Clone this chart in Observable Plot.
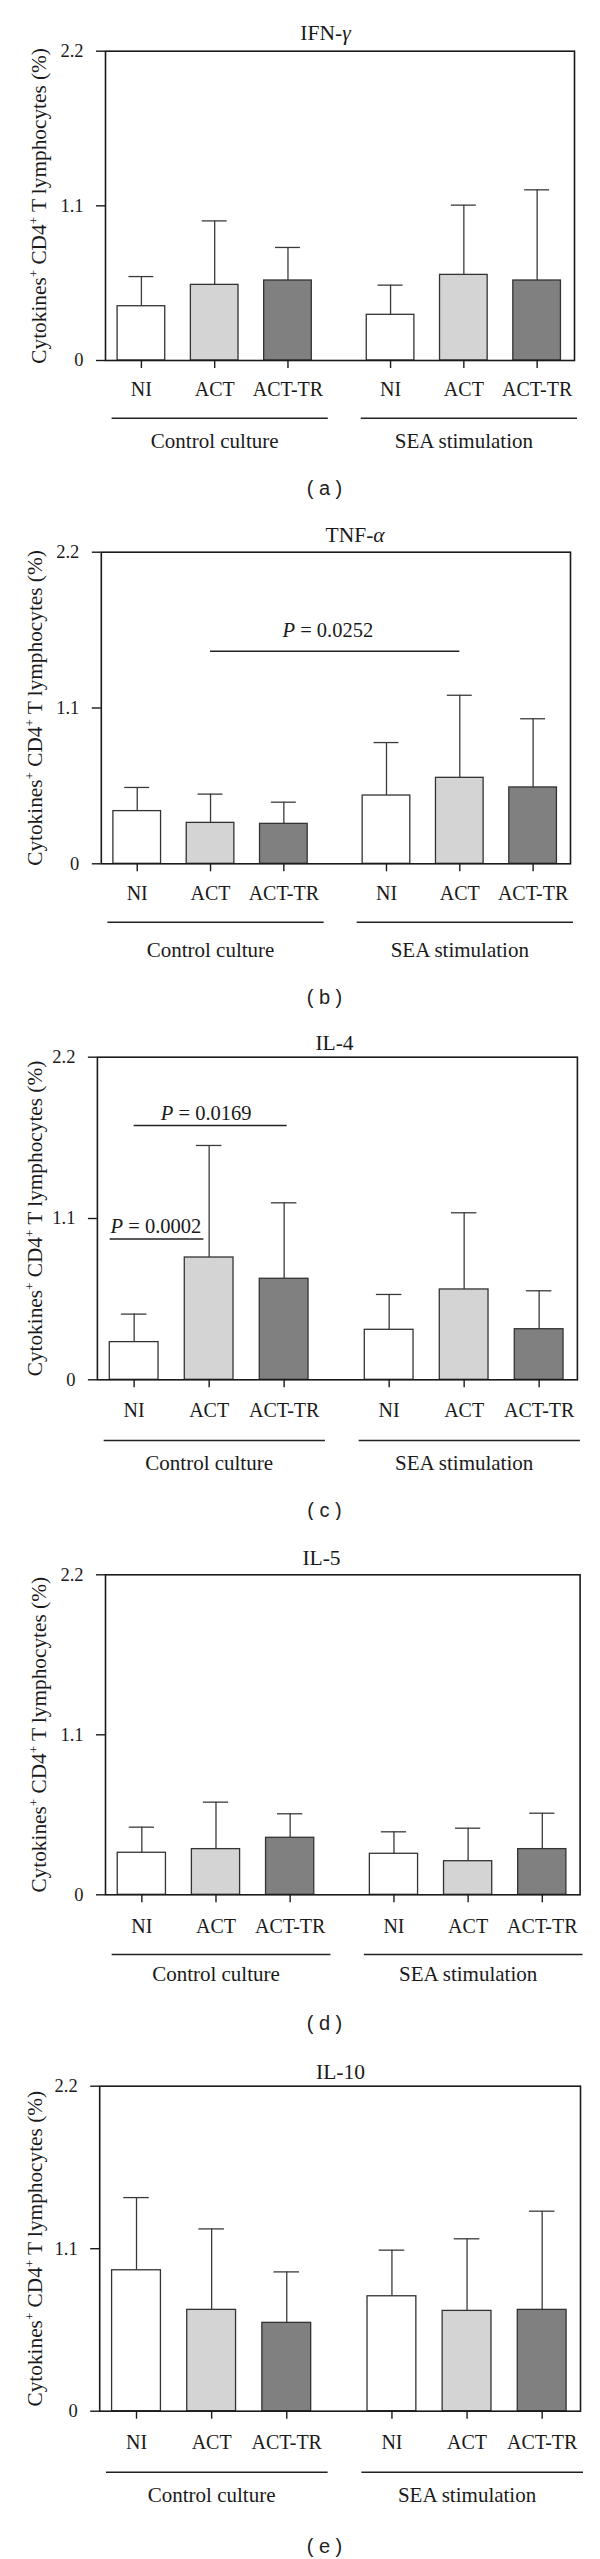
<!DOCTYPE html>
<html>
<head>
<meta charset="utf-8">
<script src="https://cdn.jsdelivr.net/npm/d3@7"></script>
<script src="https://cdn.jsdelivr.net/npm/@observablehq/plot@0.6"></script>
<style>
  html, body { margin: 0; padding: 0; background: #fff; }
  #chart { position: relative; width: 600px; height: 2559px; overflow: hidden; }
  #chart svg { position: absolute; left: 0; }
</style>
</head>
<body>
<div id="chart"></div>
<script>
// ---------------- DATA ----------------
const cytokines = ["IFN-γ", "TNF-α", "IL-4", "IL-5", "IL-10"];
const panelTags = ["a", "b", "c", "d", "e"];
const groups = ["Control culture", "SEA stimulation"];
const conditions = ["NI", "ACT", "ACT-TR"];
const conditionFills = ["#ffffff", "#d4d4d4", "#808080"];
const yTicks = [0, 1.1, 2.2];
const yLabel = "Cytokines+ CD4+ T lymphocytes (%)";

// order: Control NI, ACT, ACT-TR, SEA NI, ACT, ACT-TR
const meanIFNg = [0.386, 0.538, 0.569, 0.325, 0.609, 0.569];
const sdIFNg   = [0.211, 0.455, 0.235, 0.211, 0.496, 0.645];
const meanTNFa = [0.372, 0.289, 0.282, 0.482, 0.607, 0.539];
const sdTNFa   = [0.167, 0.203, 0.153, 0.374, 0.583, 0.485];
const meanIL4  = [0.257, 0.834, 0.689, 0.341, 0.616, 0.345];
const sdIL4    = [0.191, 0.764, 0.518, 0.241, 0.523, 0.262];
const meanIL5  = [0.289, 0.314, 0.392, 0.282, 0.231, 0.314];
const sdIL5    = [0.176, 0.323, 0.165, 0.151, 0.227, 0.247];
const meanIL10 = [0.954, 0.686, 0.598, 0.778, 0.679, 0.686];
const sdIL10   = [0.492, 0.548, 0.345, 0.312, 0.488, 0.668];
const means = [meanIFNg, meanTNFa, meanIL4, meanIL5, meanIL10];
const sds   = [sdIFNg, sdTNFa, sdIL4, sdIL5, sdIL10];

// significance annotations (x in category slots, y in %)
const pCytokine = ["TNF-α", "IL-4", "IL-4"];
const pLabels   = ["P = 0.0252", "P = 0.0002", "P = 0.0169"];
const pFrom     = [1, -0.32, 0];
const pTo       = [4.4, 0.93, 2.04];
const pLineY    = [1.50, 0.96, 1.734];
const pTextX    = [2.6, 0.29, 0.96];
const pTextY    = [1.60, 1.0, 1.773];

// ---------------- LAYOUT (pixels) ----------------
const groupShift = 3.4;        // slot offset of second group
const barHalf = 0.325, capHalf = 0.17;
const xDomain = [-0.49, 5.91];
const yLabelLength = 316;      // px length of the rotated axis title
const panels = [
  {svgTop: 0,    height: 500, frameTop: 50.7, frameBottom: 360,   left: 105,   right: 574,   titleX: 325,   titleY: 33, labelDx: -66, catDy: 29,   lineDy: 57.7, groupDy: 81,   capDy: 128},
  {svgTop: 500,  height: 510, frameTop: 51.7, frameBottom: 363.3, left: 100.8, right: 570,   titleX: 354.6, titleY: 35, labelDx: -66, catDy: 29.7, lineDy: 58.4, groupDy: 86,   capDy: 133.4},
  {svgTop: 1010, height: 510, frameTop: 46.7, frameBottom: 369.3, left: 96.9,  right: 576.9, titleX: 334,   titleY: 33, labelDx: -62, catDy: 30.7, lineDy: 60.7, groupDy: 83,   capDy: 130.7},
  {svgTop: 1520, height: 519, frameTop: 54.3, frameBottom: 374.3, left: 105,   right: 579.6, titleX: 321,   titleY: 38, labelDx: -66, catDy: 31.7, lineDy: 59.7, groupDy: 79.7, capDy: 129},
  {svgTop: 2039, height: 520, frameTop: 46.7, frameBottom: 371.7, left: 99.2,  right: 580,   titleX: 340,   titleY: 33, labelDx: -65, catDy: 31.3, lineDy: 61,   groupDy: 84,   capDy: 135}
];
const serif = "'Liberation Serif', 'Times New Roman', serif";
const ink = "#1a1a1a";

// ---------------- BUILD ----------------
const slots = groups.flatMap((g, gi) => conditions.map((c, ci) => ci + gi * groupShift));
const slotName = new Map(slots.map((s, i) => [s, conditions[i % 3]]));

const SVGNS = "http://www.w3.org/2000/svg";
function setRich(t, parts) {
  t.textContent = "";
  let shift = 0;
  for (const p of parts) {
    const ts = document.createElementNS(SVGNS, "tspan");
    ts.textContent = p.text;
    if (p.italic) ts.setAttribute("font-style", "italic");
    if (p.sup) { ts.setAttribute("font-size", "13px"); ts.setAttribute("dy", "-8"); shift = 8; }
    else if (shift) { ts.setAttribute("dy", String(shift)); shift = 0; }
    t.appendChild(ts);
  }
}

const chart = document.getElementById("chart");
cytokines.forEach((cyto, k) => {
  const L = panels[k];
  const rows = slots.map((pos, i) => ({
    cytokine: cyto,
    group: groups[Math.floor(i / 3)],
    condition: conditions[i % 3],
    pos,
    mean: means[k][i],
    sd: sds[k][i]
  }));
  const groupRows = groups.map((g, gi) => ({
    group: g,
    x1: slots[gi * 3] - 0.4,
    x2: slots[gi * 3 + 2] + 0.55,
    mid: slots[gi * 3 + 1]
  }));
  const pRows = pCytokine.map((c, i) => ({c, label: pLabels[i], from: pFrom[i], to: pTo[i], y: pLineY[i], tx: pTextX[i], ty: pTextY[i]}))
    .filter(d => d.c === cyto);

  const svg = Plot.plot({
    width: 600,
    height: L.height,
    marginLeft: L.left,
    marginRight: 600 - L.right,
    marginTop: L.frameTop,
    marginBottom: L.height - L.frameBottom,
    style: {fontFamily: serif, fontSize: "20px", color: ink, background: "white", overflow: "visible"},
    x: {type: "linear", domain: xDomain},
    y: {domain: [0, 2.2]},
    color: {domain: conditions, range: conditionFills},
    marks: [
      Plot.ruleX(rows, {x: "pos", y1: "mean", y2: d => d.mean + d.sd, stroke: "#3a3a3a", strokeWidth: 1.3}),
      Plot.ruleY(rows, {y: d => d.mean + d.sd, x1: d => d.pos - capHalf, x2: d => d.pos + capHalf, stroke: "#3a3a3a", strokeWidth: 1.3}),
      Plot.rectY(rows, {x1: d => d.pos - barHalf, x2: d => d.pos + barHalf, y1: 0, y2: "mean", fill: "condition", stroke: "#333", strokeWidth: 1.3}),
      Plot.frame({stroke: ink, strokeWidth: 1.6}),
      Plot.axisY({ticks: yTicks, tickSize: 9, tickPadding: 13, tickFormat: d => d === 0 ? "0" : d.toFixed(1), fontSize: 18.5, label: null, strokeWidth: 1.4}),
      Plot.axisX({ticks: slots, tickSize: 8, tickPadding: L.catDy - 15.6, tickFormat: d => slotName.get(d), fontSize: 20, label: null, strokeWidth: 1.4}),
      Plot.ruleY(groupRows, {y: 0, x1: "x1", x2: "x2", dy: L.lineDy, stroke: "#222", strokeWidth: 1.5}),
      Plot.text(groupRows, {x: "mid", y: 0, text: "group", dy: L.groupDy, lineAnchor: "middle", textAnchor: "middle", fontSize: 21}),
      Plot.ruleY(pRows, {y: "y", x1: "from", x2: "to", stroke: "#222", strokeWidth: 1.5}),
      Plot.text(pRows, {x: "tx", y: "ty", text: "label", lineAnchor: "bottom", textAnchor: "middle", fontSize: 20.5}),
      Plot.text([cyto], {text: d => d, frameAnchor: "top-left", dx: L.titleX - L.left, dy: L.titleY - L.frameTop, lineAnchor: "middle", textAnchor: "middle", fontSize: 21.5}),
      Plot.text([yLabel], {text: d => d, frameAnchor: "left", dx: L.labelDx, rotate: -90, lineAnchor: "middle", textAnchor: "middle", fontSize: 21}),
      Plot.text([`( ${panelTags[k]} )`], {text: d => d, frameAnchor: "bottom-left", dx: 324 - L.left, dy: L.capDy, lineAnchor: "middle", textAnchor: "middle", fontSize: 20, fontFamily: "'Liberation Sans', Arial, sans-serif", fill: "#222"})
    ]
  });
  svg.style.top = L.svgTop + "px";
  chart.appendChild(svg);

  svg.querySelectorAll("text").forEach(t => {
    const s = t.textContent;
    if (s === yLabel) {
      setRich(t, [{text: "Cytokines"}, {text: "+", sup: true}, {text: " CD4"}, {text: "+", sup: true}, {text: " T lymphocytes (%)"}]);
      const len = t.getComputedTextLength();
      if (len > 0) t.setAttribute("font-size", (21 * yLabelLength / len).toFixed(2));
    } else if (s.startsWith("P = ")) {
      setRich(t, [{text: "P", italic: true}, {text: " = " + s.slice(4)}]);
    } else if (s === cyto && /[α-ω]$/.test(s)) {
      setRich(t, [{text: s.slice(0, -1)}, {text: s.slice(-1), italic: true}]);
    }
  });
});
</script>
</body>
</html>
